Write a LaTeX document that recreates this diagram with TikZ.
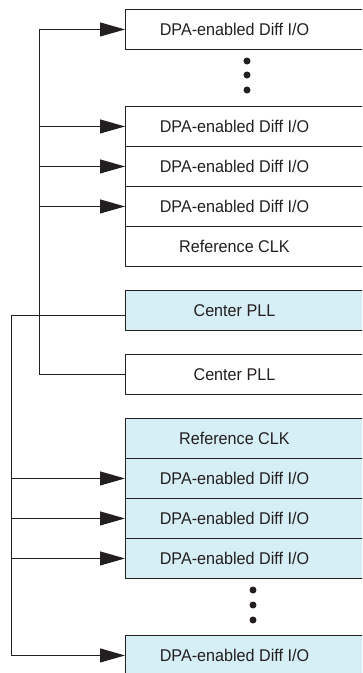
\documentclass[tikz,border=0pt]{standalone}
\usepackage{fontspec}
\setmainfont{Liberation Sans}[FakeStretch=0.95]
\usetikzlibrary{arrows.meta}
\definecolor{pllblue}{HTML}{D6EEF5}
\definecolor{ink}{HTML}{231F20}
\begin{document}
\begin{tikzpicture}[x=1pt, y=-1pt, color=ink, line width=0.9pt,
  font=\fontsize{17}{20}\selectfont,
  cell/.style={draw=ink, minimum width=250pt, minimum height=40pt, inner sep=0pt, anchor=north west,
    execute at begin node={\hspace*{-32pt}}},
  shaded/.style={cell, fill=pllblue},
  feed/.style={-{Triangle[length=25pt, width=14pt]}},
  dotmark/.style={circle, fill=ink, inner sep=0pt, minimum size=7pt}]
\useasboundingbox (0,0) rectangle (362,673);
\clip (0,0) rectangle (362,673);
% upper bank
\node[cell] (d1) at (125,9) {DPA-enabled Diff I/O};
\foreach \y [count=\i] in {61,75,90} \node[dotmark] (up\i) at (247,\y) {};
\node[cell] (d2) at (125,106) {DPA-enabled Diff I/O};
\node[cell] (d3) at (125,146) {DPA-enabled Diff I/O};
\node[cell] (d4) at (125,186) {DPA-enabled Diff I/O};
\node[cell] (ref1) at (125,226) {Reference CLK};
% the two PLLs
\node[shaded] (pll1) at (125,290) {Center PLL};
\node[cell] (pll2) at (125,354) {Center PLL};
% lower bank
\node[shaded] (ref2) at (125,418) {Reference CLK};
\node[shaded] (e1) at (125,458) {DPA-enabled Diff I/O};
\node[shaded] (e2) at (125,498) {DPA-enabled Diff I/O};
\node[shaded] (e3) at (125,538) {DPA-enabled Diff I/O};
\foreach \y [count=\i] in {590,605,620} \node[dotmark] (lo\i) at (253,\y) {};
\node[shaded] (e4) at (125,635) {DPA-enabled Diff I/O};
% clock buses
\coordinate (busA) at (39,0);
\coordinate (busB) at (11,0);
\draw[feed] (pll2.west) -| (busA |- d1.west) -- (d1.west);
\foreach \n in {d2,d3,d4} \draw[feed] (busA |- \n.west) -- (\n.west);
\draw[feed] ([yshift=-5pt]pll1.west) -| (busB |- e4.west) -- (e4.west);
\foreach \n in {e1,e2,e3} \draw[feed] (busB |- \n.west) -- (\n.west);
\end{tikzpicture}
\end{document}
